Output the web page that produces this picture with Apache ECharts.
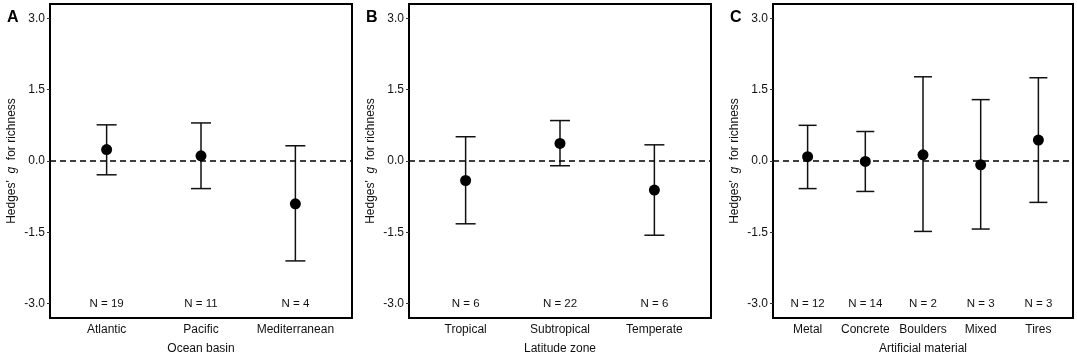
<!DOCTYPE html>
<html>
<head>
<meta charset="utf-8">
<script src="https://cdn.jsdelivr.net/npm/echarts@6/dist/echarts.min.js"></script>
<style>
html,body{margin:0;padding:0;background:#fff;}
#chart{width:1077px;height:356px;}
</style>
</head>
<body>
<div id="chart"></div>
<script>
// ---- Data ----
const basinCats = ['Atlantic', 'Pacific', 'Mediterranean'];
const basinMean = [0.24, 0.11, -0.90];
const basinLow  = [-0.29, -0.58, -2.10];
const basinHigh = [0.76, 0.80, 0.32];
const basinN    = [19, 11, 4];

const latCats = ['Tropical', 'Subtropical', 'Temperate'];
const latMean = [-0.41, 0.37, -0.61];
const latLow  = [-1.32, -0.10, -1.56];
const latHigh = [0.51, 0.85, 0.34];
const latN    = [6, 22, 6];

const matCats = ['Metal', 'Concrete', 'Boulders', 'Mixed', 'Tires'];
const matMean = [0.09, -0.01, 0.13, -0.08, 0.44];
const matLow  = [-0.58, -0.64, -1.48, -1.43, -0.87];
const matHigh = [0.75, 0.62, 1.77, 1.29, 1.75];
const matN    = [12, 14, 2, 3, 3];

const yTicks = [-3.0, -1.5, 0.0, 1.5, 3.0];
const yMin = -3.3, yMax = 3.3;
const nLabelY = -3.0;

const panels = [
  {letter: 'A', title: 'Ocean basin', cats: basinCats, mean: basinMean, low: basinLow, high: basinHigh, n: basinN, left: 50, width: 302, cap: 10},
  {letter: 'B', title: 'Latitude zone', cats: latCats, mean: latMean, low: latLow, high: latHigh, n: latN, left: 409, width: 302, cap: 10},
  {letter: 'C', title: 'Artificial material', cats: matCats, mean: matMean, low: matLow, high: matHigh, n: matN, left: 773, width: 300, cap: 9}
];

const FONT = '"Liberation Sans", Arial, Helvetica, sans-serif';
const INK = '#111';

const grid = [], xAxis = [], yAxis = [], series = [], graphic = [];

panels.forEach((p, i) => {
  const k = p.cats.length;
  const positions = p.cats.map((c, j) => j + 1);
  grid.push({left: p.left, top: 4, width: p.width, height: 314, show: true,
    borderColor: '#000', borderWidth: 2, backgroundColor: 'transparent',
    containLabel: false, outerBoundsMode: 'none'});
  xAxis.push({
    type: 'value', gridIndex: i, min: 0.4, max: k + 0.6,
    name: p.title, nameLocation: 'middle', nameGap: 25,
    nameTextStyle: {fontFamily: FONT, fontSize: 12, color: INK},
    axisLine: {show: false},
    splitLine: {show: false},
    axisTick: {show: false},
    axisLabel: {show: true, margin: 6, fontFamily: FONT, fontSize: 12, color: INK,
      customValues: positions,
      formatter: v => p.cats[Math.round(v) - 1] || ''}
  });
  yAxis.push({
    type: 'value', gridIndex: i, min: yMin, max: yMax,
    name: "{n|Hedges'}  {i|g}  {n|for richness}", nameLocation: 'middle', nameGap: 32,
    nameRotate: 90,
    nameTextStyle: {fontFamily: FONT, fontSize: 12, color: INK,
      rich: {n: {fontFamily: FONT, fontSize: 12, color: INK},
             i: {fontFamily: FONT, fontSize: 12, color: INK, fontStyle: 'italic'}}},
    axisLine: {show: false},
    splitLine: {show: false},
    axisTick: {show: true, length: 3, lineStyle: {color: '#333', width: 1}, customValues: yTicks},
    axisLabel: {show: true, margin: 5, fontFamily: FONT, fontSize: 12, color: INK,
      customValues: yTicks, formatter: v => v.toFixed(1)}
  });

  // error bars
  const cap = p.cap;
  series.push({
    type: 'custom', xAxisIndex: i, yAxisIndex: i, z: 3,
    data: positions.map((x, j) => [x, p.low[j], p.high[j]]),
    renderItem: (params, api) => {
      const x = api.value(0);
      const lo = api.coord([x, api.value(1)]);
      const hi = api.coord([x, api.value(2)]);
      const st = {stroke: '#111', lineWidth: 1.5};
      return {type: 'group', children: [
        {type: 'line', shape: {x1: lo[0], y1: lo[1], x2: hi[0], y2: hi[1]}, style: st},
        {type: 'line', shape: {x1: hi[0] - cap, y1: hi[1], x2: hi[0] + cap, y2: hi[1]}, style: st},
        {type: 'line', shape: {x1: lo[0] - cap, y1: lo[1], x2: lo[0] + cap, y2: lo[1]}, style: st}
      ]};
    }
  });
  // means + zero line
  series.push({
    type: 'scatter', xAxisIndex: i, yAxisIndex: i, z: 4,
    symbol: 'circle', symbolSize: 11,
    itemStyle: {color: '#000', opacity: 1},
    data: positions.map((x, j) => [x, p.mean[j]]),
    markLine: {
      silent: true, symbol: ['none', 'none'], label: {show: false},
      lineStyle: {color: '#000', type: [6, 4], width: 1.5, opacity: 1},
      data: [{yAxis: 0}]
    }
  });
  // N labels
  series.push({
    type: 'scatter', xAxisIndex: i, yAxisIndex: i, z: 5,
    symbolSize: 0,
    itemStyle: {opacity: 1},
    data: positions.map((x, j) => [x, nLabelY, p.n[j]]),
    label: {show: true, position: 'inside', fontFamily: FONT, fontSize: 11.5, color: INK,
      formatter: d => 'N = ' + d.value[2]}
  });

  graphic.push({type: 'text', left: p.left - 43, top: 10,
    style: {text: p.letter, font: 'bold 16px ' + FONT, fill: '#000'}});
});

const chart = echarts.init(document.getElementById('chart'), null, {renderer: 'canvas'});
chart.setOption({
  animation: false,
  backgroundColor: '#fff',
  grid, xAxis, yAxis, series, graphic
});
</script>
</body>
</html>
